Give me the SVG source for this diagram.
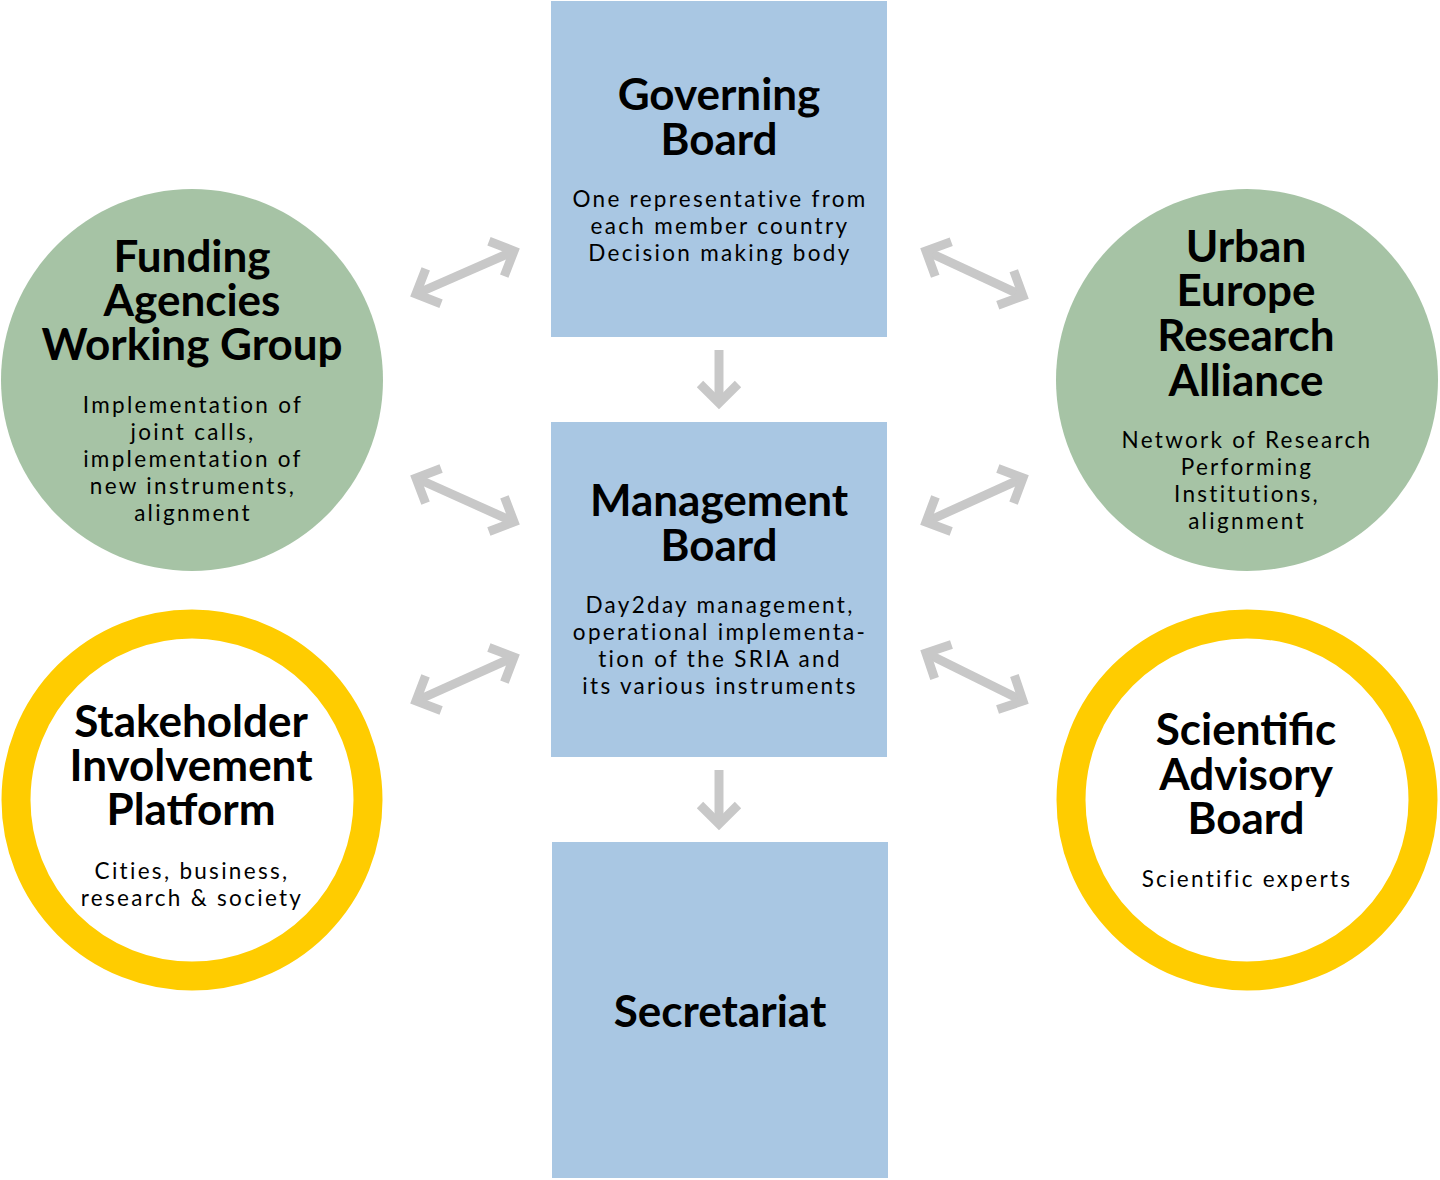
<svg xmlns="http://www.w3.org/2000/svg" width="1440" height="1180" viewBox="0 0 1440 1180">
<style>
.box{fill:#a9c7e3}
.green{fill:#a6c3a5}
.ring{fill:#fff;stroke:#ffcc00;stroke-width:29}
.t{font-family:Lato,"Open Sans",sans-serif;font-weight:700;font-size:44px;fill:#000;text-anchor:middle}
.b{font-family:Lato,"Open Sans",sans-serif;font-weight:400;font-size:22.5px;letter-spacing:2.3px;fill:#000;text-anchor:middle}
.c line{stroke:#c8c8c8;stroke-width:9;fill:none}
</style>
<defs>
<marker id="h" viewBox="-30 -30 60 60" markerWidth="60" markerHeight="60" markerUnits="userSpaceOnUse" refX="0" refY="0" orient="auto-start-reverse">
<polyline points="-19,-19 0,0 -19,19" fill="none" stroke="#c8c8c8" stroke-width="9"/>
</marker>
</defs>
<g id="governing-board">
<rect class="box" x="551" y="1" width="336" height="336"/>
<text class="t" x="719" y="110">Governing<tspan x="719" dy="45">Board</tspan></text>
<text class="b" x="720" y="207">One representative from<tspan x="720" dy="27">each member country</tspan><tspan x="720" dy="27">Decision making body</tspan></text>
</g>
<g id="management-board">
<rect class="box" x="551" y="422" width="336" height="335"/>
<text class="t" x="719" y="516">Management<tspan x="719" dy="45">Board</tspan></text>
<text class="b" x="720" y="613">Day2day management,<tspan x="720" dy="27">operational implementa-</tspan><tspan x="720" dy="27">tion of the SRIA and</tspan><tspan x="720" dy="27">its various instruments</tspan></text>
</g>
<g id="secretariat">
<rect class="box" x="552" y="842" width="336" height="336"/>
<text class="t" x="720" y="1027">Secretariat</text>
</g>
<g id="funding-agencies">
<circle class="green" cx="192" cy="380" r="191"/>
<text class="t" x="192" y="272">Funding<tspan x="192" dy="44">Agencies</tspan><tspan x="192" dy="44">Working Group</tspan></text>
<text class="b" x="193" y="413">Implementation of<tspan x="193" dy="27">joint calls,</tspan><tspan x="193" dy="27">implementation of</tspan><tspan x="193" dy="27">new instruments,</tspan><tspan x="193" dy="27">alignment</tspan></text>
</g>
<g id="urban-europe">
<circle class="green" cx="1247" cy="380" r="191"/>
<text class="t" x="1246" y="262">Urban<tspan x="1246" dy="44">Europe</tspan><tspan x="1246" dy="45">Research</tspan><tspan x="1246" dy="45">Alliance</tspan></text>
<text class="b" x="1247" y="448">Network of Research<tspan x="1247" dy="27">Performing</tspan><tspan x="1247" dy="27">Institutions,</tspan><tspan x="1247" dy="27">alignment</tspan></text>
</g>
<g id="stakeholder">
<circle class="ring" cx="192" cy="800" r="176"/>
<text class="t" x="191" y="737">Stakeholder<tspan x="191" dy="44">Involvement</tspan><tspan x="191" dy="44">Platform</tspan></text>
<text class="b" x="192" y="879">Cities, business,<tspan x="192" dy="27">research &amp; society</tspan></text>
</g>
<g id="scientific">
<circle class="ring" cx="1247" cy="800" r="176"/>
<text class="t" x="1246" y="745">Scientific<tspan x="1246" dy="45">Advisory</tspan><tspan x="1246" dy="44">Board</tspan></text>
<text class="b" x="1247" y="887">Scientific experts</text>
</g>
<g id="connectors" class="c">
<line x1="416" y1="294" x2="514" y2="251" marker-start="url(#h)" marker-end="url(#h)"/>
<line x1="416" y1="478" x2="514" y2="522" marker-start="url(#h)" marker-end="url(#h)"/>
<line x1="416" y1="701" x2="514" y2="657" marker-start="url(#h)" marker-end="url(#h)"/>
<line x1="926" y1="251" x2="1023" y2="296" marker-start="url(#h)" marker-end="url(#h)"/>
<line x1="926" y1="522" x2="1023" y2="478" marker-start="url(#h)" marker-end="url(#h)"/>
<line x1="926" y1="653" x2="1023" y2="701" marker-start="url(#h)" marker-end="url(#h)"/>
<line x1="719" y1="350" x2="719" y2="403" marker-end="url(#h)"/>
<line x1="719" y1="770" x2="719" y2="824" marker-end="url(#h)"/>
</g>
</svg>
